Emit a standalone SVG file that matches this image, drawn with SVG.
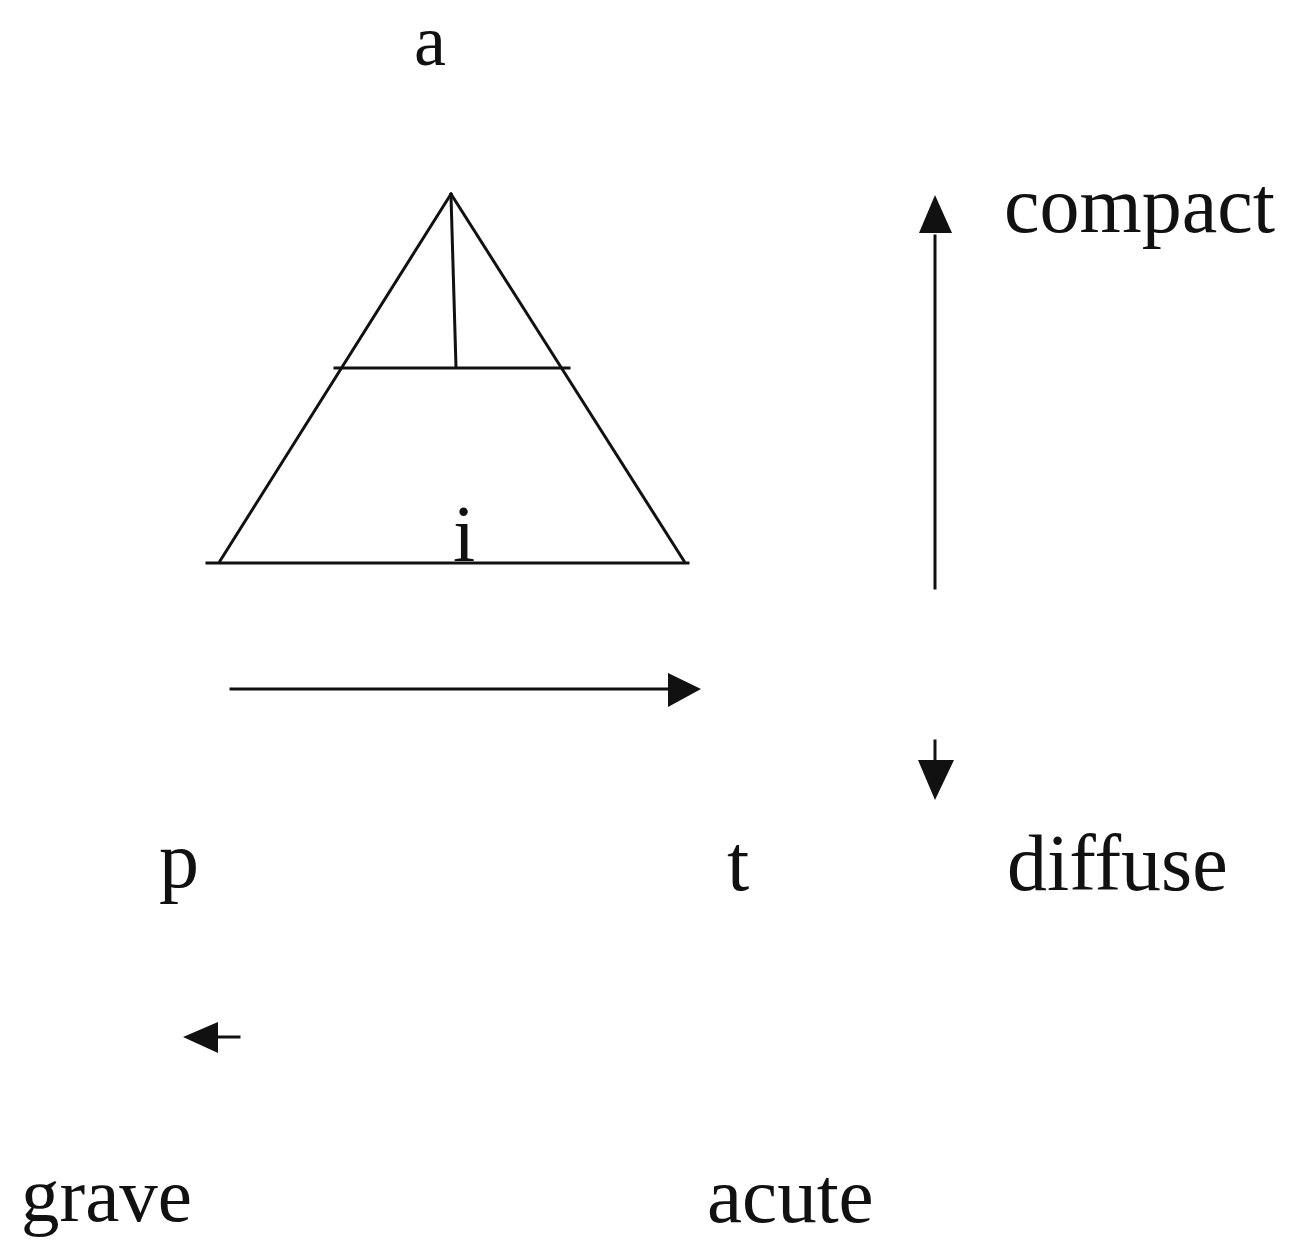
<svg xmlns="http://www.w3.org/2000/svg" width="1297" height="1243" viewBox="0 0 1297 1243">
<style>
.t{font-family:"Liberation Serif","Times New Roman",serif;font-size:80px;fill:#111}
.ln{stroke:#111;stroke-width:3;fill:none;stroke-linecap:square}
.ah{fill:#111}
</style>
<rect width="1297" height="1243" fill="#fff"/>
<g id="triangle">
<line class="ln" x1="451" y1="194" x2="220" y2="561"/>
<line class="ln" x1="451" y1="194" x2="684" y2="561"/>
<line class="ln" x1="451" y1="196" x2="456" y2="367"/>
<line class="ln" x1="335" y1="368" x2="569" y2="368"/>
<line class="ln" x1="207" y1="563" x2="688" y2="563"/>
</g>
<g id="label-a"><text class="t" x="414" y="65" style="font-size:72px">a</text></g>
<g id="label-i"><text class="t" x="453" y="561">i</text></g>
<g id="label-p"><text class="t" x="159" y="887">p</text></g>
<g id="label-t"><text class="t" x="727" y="890">t</text></g>
<g id="label-compact"><text class="t" x="1004" y="232">compact</text></g>
<g id="label-diffuse"><text class="t" x="1007" y="890">diffuse</text></g>
<g id="label-grave"><text class="t" x="21" y="1221" style="font-size:77px">grave</text></g>
<g id="label-acute"><text class="t" x="707" y="1222" style="font-size:79px">acute</text></g>
<g id="connectors">
<line class="ln" x1="935" y1="588" x2="935" y2="236"/>
<polygon class="ah" points="935,195 919,233 952,233"/>
<line class="ln" x1="935" y1="741" x2="935" y2="762"/>
<polygon class="ah" points="935,800 918,760 954,760"/>
<line class="ln" x1="231" y1="689" x2="670" y2="689"/>
<polygon class="ah" points="701,689 668,673 668,707"/>
<line class="ln" x1="215" y1="1037" x2="239" y2="1037"/>
<polygon class="ah" points="183,1037 218,1022 218,1053"/>
</g>
</svg>
